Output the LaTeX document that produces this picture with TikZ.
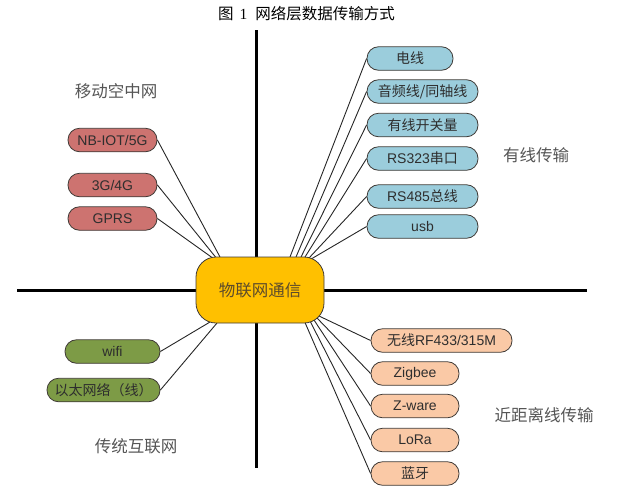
\documentclass[tikz,border=0pt]{standalone}
\usepackage{fontspec}
\setmainfont{Liberation Sans}
\newfontfamily\cjk{Noto Sans CJK SC}
\newfontfamily\serifl{Liberation Serif}
\usetikzlibrary{backgrounds}
\definecolor{redf}{HTML}{CD7370}
\definecolor{bluef}{HTML}{9BCDDC}
\definecolor{greenf}{HTML}{7D9B46}
\definecolor{orangef}{HTML}{FAC9A6}
\definecolor{goldf}{HTML}{FFC000}
\definecolor{edgec}{HTML}{3F3A36}
\definecolor{txtc}{HTML}{2E2E2E}
\definecolor{lblc}{HTML}{555555}
\definecolor{centxt}{HTML}{5E4C2A}
\begin{document}
\begin{tikzpicture}[x=1pt,y=-1pt,
  pill/.style={draw=edgec, line width=0.8pt, rounded corners=11.5pt,
    minimum height=23.5pt, inner sep=0pt, text=txtc,
    font=\fontsize{14}{15}\selectfont},
  redbox/.style={pill, fill=redf},
  bluebox/.style={pill, fill=bluef},
  greenbox/.style={pill, fill=greenf},
  orangebox/.style={pill, fill=orangef},
  centerbox/.style={draw=edgec, line width=0.8pt, fill=goldf, rounded corners=20pt,
    minimum width=128pt, minimum height=66pt, inner sep=0pt, text=centxt,
    font=\cjk\fontsize{16.5}{17}\selectfont},
  grouplabel/.style={text=lblc, inner sep=0pt, font=\cjk\fontsize{16.5}{17}\selectfont},
  axisline/.style={line width=3pt, black},
  link/.style={line width=0.9pt, draw=black!85}
]
\useasboundingbox (0,0) rectangle (617,499);

\node[inner sep=0pt, anchor=west, font=\fontsize{15.5}{16}\selectfont] (title) at (218,14)
  {{\cjk 图}\hspace{6pt}{\serifl 1}\hspace{8pt}{\cjk 网络层数据传输方式}};

\node[centerbox] (c) at (260,290) {物联网通信};

% mobile
\node[redbox, minimum width=89pt] (r1) at (112.5,140) {NB-IOT/5G};
\node[redbox, minimum width=89pt] (r2) at (112.5,185) {3G/4G};
\node[redbox, minimum width=89pt] (r3) at (112.5,218.5) {GPRS};
\node[grouplabel] (lr) at (116,91) {移动空中网};

% wired
\node[bluebox, minimum width=86pt] (b1) at (410,58.5) {\cjk 电线};
\node[bluebox, minimum width=111pt] (b2) at (422.5,91.5) {\cjk 音频线/同轴线};
\node[bluebox, minimum width=111pt] (b3) at (422.5,125) {\cjk 有线开关量};
\node[bluebox, minimum width=111pt] (b4) at (422.5,158.5) {RS323{\cjk 串口}};
\node[bluebox, minimum width=111pt] (b5) at (422.5,196.5) {RS485{\cjk 总线}};
\node[bluebox, minimum width=111pt] (b6) at (422.5,226.5) {usb};
\node[grouplabel] (lb) at (536,155) {有线传输};

% traditional internet
\node[greenbox, minimum width=95pt] (g1) at (112.5,351.5) {wifi};
\node[greenbox, minimum width=113pt] (g2) at (103.5,390) {\cjk 以太网络（线）};
\node[grouplabel] (lg) at (136,446) {传统互联网};

% short range wireless
\node[orangebox, minimum width=141pt] (o1) at (441.5,340.5) {{\cjk 无线}RF433/315M};
\node[orangebox, minimum width=88pt] (o2) at (415,373.5) {Zigbee};
\node[orangebox, minimum width=88pt] (o3) at (415,406) {Z-ware};
\node[orangebox, minimum width=88pt] (o4) at (415,440) {LoRa};
\node[orangebox, minimum width=88pt] (o5) at (415,473.5) {\cjk 蓝牙};
\node[grouplabel] (lo) at (544,415) {近距离线传输};

\begin{pgfonlayer}{background}
  \coordinate (vt) at (256,30);
  \coordinate (vb) at (256,468);
  \coordinate (hl) at (17,290);
  \coordinate (hr) at (587,290);
  \draw[axisline] (vt) -- (vb);
  \draw[axisline] (hl) -- (hr);

  \draw[link] (r1.east) -- ([shift={(-40,-33)}]c.center);
  \draw[link] (r2.east) -- ([shift={(-44.5,-33)}]c.center);
  \draw[link] (r3.east) -- ([shift={(-48,-32.5)}]c.center);

  \draw[link] (b1.west) -- ([shift={(30,-33)}]c.center);
  \draw[link] (b2.west) -- ([shift={(36,-33)}]c.center);
  \draw[link] (b3.west) -- ([shift={(41,-33)}]c.center);
  \draw[link] (b4.west) -- ([shift={(45,-33)}]c.center);
  \draw[link] (b5.west) -- ([shift={(49,-32)}]c.center);
  \draw[link] (b6.west) -- ([shift={(52,-31.5)}]c.center);

  \draw[link] (g1.east) -- ([shift={(-50,32)}]c.center);
  \draw[link] (g2.east) -- ([shift={(-43,33)}]c.center);

  \draw[link] (o1.west) -- ([shift={(59,26)}]c.center);
  \draw[link] (o2.west) -- ([shift={(57,28)}]c.center);
  \draw[link] (o3.west) -- ([shift={(54,30)}]c.center);
  \draw[link] (o4.west) -- ([shift={(50,31)}]c.center);
  \draw[link] (o5.west) -- ([shift={(45,32.5)}]c.center);
\end{pgfonlayer}
\end{tikzpicture}
\end{document}
